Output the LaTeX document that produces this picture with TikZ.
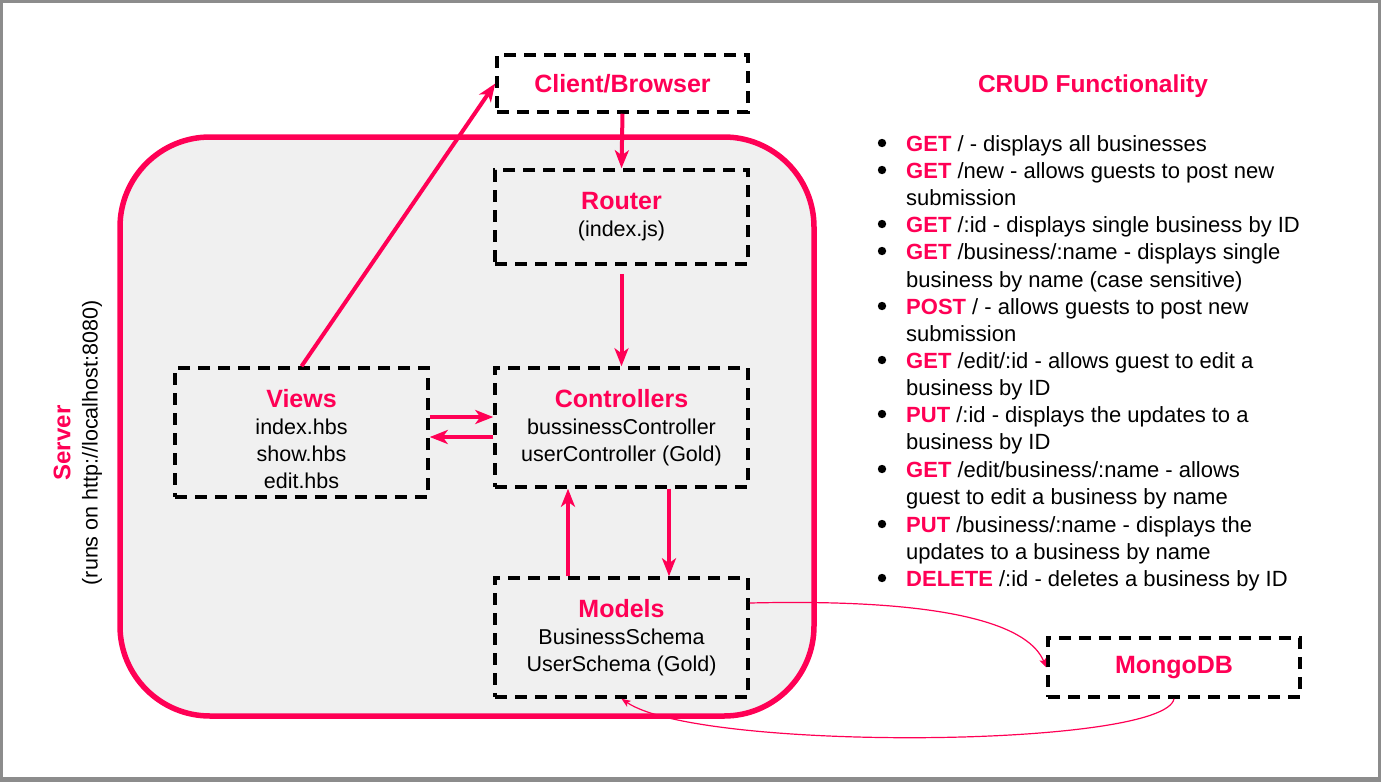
\documentclass[tikz,border=0pt]{standalone}
\usepackage{fontspec}
\setmainfont{Liberation Sans}
\usetikzlibrary{arrows.meta}
\definecolor{hot}{HTML}{FF0055}
\definecolor{srvfill}{HTML}{F0F0F0}
\definecolor{framegray}{HTML}{8C8C8C}
\newcommand{\hdr}[1]{{\color{hot}\bfseries\fontsize{25}{30}\selectfont #1}}
\newcommand{\kw}[1]{{\color{hot}\bfseries #1}}
\begin{document}
\begin{tikzpicture}[x=1pt,y=-1pt,
  box/.style={draw=black, line width=3.5pt, dash pattern=on 12pt off 8pt, inner sep=0pt,
    align=center, font=\fontsize{21.5}{27}\selectfont},
  arr/.style={draw=hot, line width=4pt, -{Stealth[length=18pt,width=14pt,inset=5pt]}},
  thinarr/.style={draw=hot, line width=1.2pt, -{Stealth[length=9pt,width=7pt,inset=2pt]}},
  item/.style={anchor=base west, inner sep=0pt, font=\fontsize{22}{27}\selectfont},
  dot/.style={fill=black}
]
% frame
\fill[framegray] (0,0) rectangle (1381,782);
\fill[white] (3,3) rectangle (1378,777);
\useasboundingbox (0,0) rectangle (1381,782);

% server
\draw[hot, line width=5.5pt, fill=srvfill, rounded corners=90pt] (120,137) rectangle (814,716);
\node[rotate=90, inner sep=0pt, font=\bfseries\fontsize{24}{28}\selectfont, text=hot] (srvlbl) at (62,443) {Server};
\node[rotate=90, inner sep=0pt, font=\fontsize{21.5}{26}\selectfont] (srvsub) at (92,443) {(runs on http://localhost:8080)};

% boxes
\node[box, minimum width=251, minimum height=57] (client) at (622.5,83.5) {\hdr{Client/Browser}};
\node[box, minimum width=253, minimum height=94] (router) at (621.5,217) {\hdr{Router}\\(index.js)};
\node[box, minimum width=253, minimum height=119] (ctrl) at (621.5,427.5) {\hdr{Controllers}\\bussinessController\\userController (Gold)};
\node[box, minimum width=253, minimum height=129] (views) at (301.5,432.5) {\rule{0pt}{31pt}\hdr{Views}\\index.hbs\\show.hbs\\edit.hbs};
\node[box, minimum width=253, minimum height=119] (models) at (621.5,637.5) {\hdr{Models}\\BusinessSchema\\UserSchema (Gold)};
\node[box, minimum width=252, minimum height=59] (mongo) at (1174,667.5) {\hdr{MongoDB}};

% arrows
\draw[arr] (views.north) -- (client.west);
\draw[arr] (client.south) -- (router.north);
\draw[arr, shorten <=8pt] (router.south) -- (ctrl.north);
\draw[arr] (views.east |- 0,417) -- (ctrl.west |- 0,417);
\draw[arr] (ctrl.west |- 0,437) -- (views.east |- 0,437);
\draw[arr] (models.north -| 568,0) -- (ctrl.south -| 568,0);
\draw[arr] (ctrl.south -| 669,0) -- (models.north -| 669,0);
\draw[thinarr] (models.east |- 0,603) .. controls (960,598) and (1030,628) .. (mongo.west);
\draw[thinarr] (mongo.south) .. controls (1165,748) and (700,752) .. (models.south);

% CRUD list
\node[inner sep=0pt, font=\bfseries\fontsize{24.5}{29}\selectfont, text=hot] (crud) at (1093,86) {CRUD Functionality};
\foreach \y in {143,170,224,251,306,360,414,469,524,578} {\fill[dot] (882,\y) circle (4.2);}
\node[item] (l1) at (906,151) {\kw{GET} / - displays all businesses};
\node[item] (l2) at (906,178) {\kw{GET} /new - allows guests to post new};
\node[item] (l3) at (906,205) {submission};
\node[item] (l4) at (906,232) {\kw{GET} /:id - displays single business by ID};
\node[item] (l5) at (906,259) {\kw{GET} /business/:name - displays single};
\node[item] (l6) at (906,287) {business by name (case sensitive)};
\node[item] (l7) at (906,314) {\kw{POST} / - allows guests to post new};
\node[item] (l8) at (906,341) {submission};
\node[item] (l9) at (906,368) {\kw{GET} /edit/:id - allows guest to edit a};
\node[item] (l10) at (906,395) {business by ID};
\node[item] (l11) at (906,422) {\kw{PUT} /:id - displays the updates to a};
\node[item] (l12) at (906,449) {business by ID};
\node[item] (l13) at (906,477) {\kw{GET} /edit/business/:name - allows};
\node[item] (l14) at (906,504) {guest to edit a business by name};
\node[item] (l15) at (906,532) {\kw{PUT} /business/:name - displays the};
\node[item] (l16) at (906,559) {updates to a business by name};
\node[item] (l17) at (906,586) {\kw{DELETE} /:id - deletes a business by ID};
\end{tikzpicture}
\end{document}
